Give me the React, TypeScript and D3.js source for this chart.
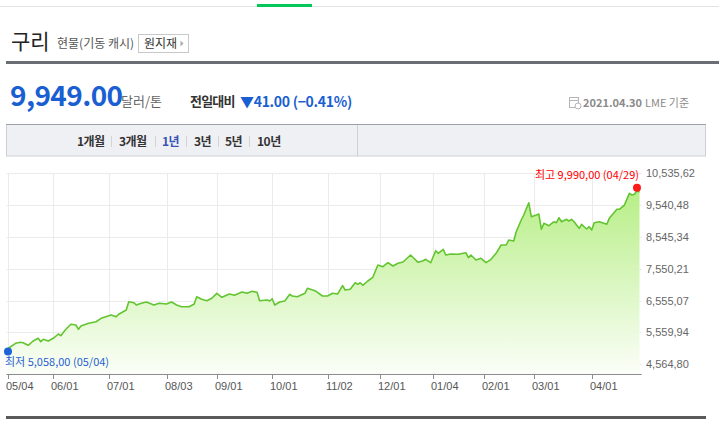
import React from 'react';
import * as d3 from 'd3';

// LME 거래일: 주말과 영국 공휴일 제외
const startDate = '2020-05-04';
const endDate = '2021-04-30';
const holidays = ['2020-05-08', '2020-05-25', '2020-08-31', '2020-12-25', '2020-12-28', '2021-01-01', '2021-04-02', '2021-04-05'];

const dates = [
  '2020-05-04', '2020-05-07', '2020-05-12', '2020-05-13', '2020-05-15', '2020-05-19', '2020-05-21', '2020-05-22', '2020-05-26', '2020-05-28',
  '2020-06-01', '2020-06-03', '2020-06-04', '2020-06-08', '2020-06-10', '2020-06-12', '2020-06-15', '2020-06-16', '2020-06-19', '2020-06-24', '2020-06-26',
  '2020-07-02', '2020-07-06', '2020-07-07', '2020-07-10', '2020-07-13', '2020-07-15', '2020-07-16', '2020-07-20', '2020-07-22', '2020-07-27', '2020-07-29',
  '2020-08-03', '2020-08-05', '2020-08-07', '2020-08-11', '2020-08-14', '2020-08-18', '2020-08-19', '2020-08-21', '2020-08-25', '2020-08-27',
  '2020-09-01', '2020-09-03', '2020-09-08', '2020-09-10', '2020-09-15', '2020-09-17', '2020-09-21', '2020-09-23', '2020-09-24', '2020-09-29', '2020-09-30',
  '2020-10-01', '2020-10-02', '2020-10-06', '2020-10-08', '2020-10-12', '2020-10-13', '2020-10-15', '2020-10-20', '2020-10-21', '2020-10-26', '2020-10-29',
  '2020-11-02', '2020-11-04', '2020-11-06', '2020-11-10', '2020-11-11', '2020-11-13', '2020-11-17', '2020-11-18', '2020-11-19', '2020-11-20', '2020-11-24', '2020-11-26', '2020-11-30',
  '2020-12-02', '2020-12-04', '2020-12-08', '2020-12-10', '2020-12-14', '2020-12-17', '2020-12-22', '2020-12-24', '2020-12-29', '2020-12-31',
  '2021-01-05', '2021-01-06', '2021-01-08', '2021-01-11', '2021-01-13', '2021-01-18', '2021-01-21', '2021-01-22', '2021-01-25', '2021-01-27', '2021-01-29',
  '2021-02-02', '2021-02-04', '2021-02-08', '2021-02-10', '2021-02-12', '2021-02-15', '2021-02-17', '2021-02-18', '2021-02-22', '2021-02-23', '2021-02-25', '2021-02-26',
  '2021-03-02', '2021-03-03', '2021-03-04', '2021-03-05', '2021-03-09', '2021-03-11', '2021-03-12', '2021-03-15', '2021-03-16', '2021-03-18', '2021-03-19', '2021-03-22', '2021-03-23', '2021-03-25', '2021-03-26', '2021-03-29', '2021-03-30', '2021-03-31',
  '2021-04-01', '2021-04-06', '2021-04-08', '2021-04-13', '2021-04-14', '2021-04-19', '2021-04-20', '2021-04-22', '2021-04-26', '2021-04-27', '2021-04-28', '2021-04-29', '2021-04-30',
];

const prices = [
  5058, 5221, 5252, 5240, 5159, 5293, 5378, 5271, 5346, 5293,
  5378, 5512, 5459, 5659, 5815, 5793, 5659, 5762, 5846, 5896, 6003,
  6106, 6053, 6128, 6262, 6521, 6490, 6418, 6471, 6512, 6418, 6471,
  6450, 6512, 6418, 6365, 6365, 6450, 6678, 6597, 6553, 6628,
  6784, 6659, 6762, 6722, 6825, 6784, 6847, 6815, 6553, 6575, 6543,
  6615, 6418, 6512, 6543, 6753, 6700, 6678, 6784, 6940, 6865, 6700,
  6700, 6784, 6762, 7022, 6887, 6909, 7115, 7065, 7115, 7034, 7169, 7284, 7669,
  7616, 7741, 7638, 7722, 7763, 7981, 7753, 7803, 7847, 7741,
  8116, 8035, 8160, 7981, 8013, 8003, 8053, 7897, 7981, 7825, 7878,
  7741, 7847, 8035, 8294, 8294, 8450, 8419, 8710, 9076, 9232, 9614, 9179,
  9232, 9263, 8785, 8972, 8897, 9022, 8991, 9147, 9022, 9097, 9044, 9097, 9022, 8816, 8941, 8866, 8794, 8866,
  8763, 8991, 9022, 8941, 9128, 9410, 9410, 9544, 9910, 9857, 9880, 9990, 9949,
];

const yTicks = [4564.80, 5559.94, 6555.07, 7550.21, 8545.34, 9540.48, 10535.62];
const xTicks = ['2020-05-04', '2020-06-01', '2020-07-01', '2020-08-03', '2020-09-01', '2020-10-01', '2020-11-02', '2020-12-01', '2021-01-04', '2021-02-01', '2021-03-01', '2021-04-01'];
const periods = ['1개월', '3개월', '1년', '3년', '5년', '10년'];
const selectedPeriod = '1년';

const KR = "'Noto Sans CJK KR', 'Noto Sans', sans-serif";
const NUM = "'Liberation Sans', Arial, sans-serif";

const parse = d3.timeParse('%Y-%m-%d');
const fmtDay = d3.timeFormat('%Y-%m-%d');
const fmtTick = d3.timeFormat('%m/%d');
const fmtNum = (v: number) => d3.format(',.2f')(v).replace('.', ',');

const tradingDays = d3.timeDay
  .range(parse(startDate)!, d3.timeDay.offset(parse(endDate)!, 1))
  .filter(d => d.getDay() !== 0 && d.getDay() !== 6)
  .map(fmtDay)
  .filter(s => !holidays.includes(s));

export default function App() {
  const plotTop = 173.3;
  const plotBottom = 374;
  const plotLeft = 8;
  const plotRight = 641.7;

  const x = d3.scalePoint<string>().domain(tradingDays).range([8, 639.5]);
  const y = d3.scaleLinear().domain([yTicks[0], yTicks[yTicks.length - 1]]).range([364.3, 173.3]);

  const data = dates.map((d, i) => ({ date: d, value: prices[i] }));

  const line = d3.line<{ date: string; value: number }>()
    .x(d => x(d.date)!)
    .y(d => y(d.value));
  const area = d3.area<{ date: string; value: number }>()
    .x(d => x(d.date)!)
    .y0(plotBottom)
    .y1(d => y(d.value));

  const maxD = data.reduce((a, b) => (b.value > a.value ? b : a));
  const minD = data.reduce((a, b) => (b.value < a.value ? b : a));

  // 기간 탭 위치
  const tabX = [77, 119, 162, 194, 225, 257];
  const sepX = [111, 155, 186, 218, 249];

  return (
    <svg width={719} height={432} style={{ position: 'absolute', left: 0, top: 0, background: '#fff' }}>
      <defs>
        <linearGradient id="areaFill" gradientUnits="userSpaceOnUse" x1="0" y1={185} x2="0" y2={plotBottom}>
          <stop offset="0%" stopColor="#b6ee84" />
          <stop offset="100%" stopColor="#fbfef8" />
        </linearGradient>
      </defs>

      {/* 상단 탭 라인 */}
      <rect x={0} y={6} width={719} height={1} fill="#e4e4e4" />
      <rect x={257} y={4} width={55} height={3} fill="#03c75a" />

      {/* 제목 */}
      <text x={11} y={49} fontFamily={KR} fontSize={21} fill="#222">구리</text>
      <text x={57} y={48} fontFamily={KR} fontSize={12} fill="#555">현물(기동 캐시)</text>
      <rect x={138.5} y={34.5} width={50} height={18} fill="#fff" stroke="#c8c8c8" />
      <text x={144} y={47.5} fontFamily={KR} fontSize={12} fill="#333">원지재</text>
      <path d="M180.5,40.5 L183.5,43.5 L180.5,46.5 Z" fill="#aaa" />
      <rect x={6} y={61} width={713} height={3} fill="#6a6e74" />

      {/* 현재가 */}
      <text x={10} y={106} fontFamily={KR} fontSize={28} fontWeight={700} fill="#1a5fd2" letterSpacing={-0.6}>9,949.00</text>
      <text x={121} y={106} fontFamily={KR} fontSize={13} fill="#666">달러/톤</text>
      <text x={190} y={106} fontFamily={KR} fontSize={13} fontWeight={700} fill="#333" letterSpacing={-0.8}>전일대비</text>
      <text x={240} y={107} fontFamily={KR} fontSize={14} fontWeight={700} fill="#1a5fd2" letterSpacing={-0.3}>▼41.00 (−0.41%)</text>

      <g transform="translate(569,97)">
        <rect x={0.5} y={0.5} width={9} height={10} fill="none" stroke="#b5b5b5" />
        <line x1={0.5} y1={3.5} x2={9.5} y2={3.5} stroke="#b5b5b5" />
        <circle cx={9} cy={9} r={3} fill="#fff" stroke="#b5b5b5" />
      </g>
      <text x={583} y={107} fontFamily={KR} fontSize={11} fontWeight={700} fill="#8a8a8a">2021.04.30</text>
      <text x={645} y={107} fontFamily={KR} fontSize={11} fill="#8a8a8a">LME 기준</text>

      {/* 기간 탭 */}
      <rect x={6.5} y={124.5} width={699} height={31.5} fill="#eff0f4" stroke="#cdd0d6" />
      <line x1={6} y1={124.5} x2={706} y2={124.5} stroke="#9da1ab" />
      <line x1={357.5} y1={125} x2={357.5} y2={156} stroke="#cdd0d6" />
      {periods.map((p, i) => (
        <text key={p} x={tabX[i]} y={146} fontFamily={KR} fontSize={12} fontWeight={700}
          fill={p === selectedPeriod ? '#3853b3' : '#333'} letterSpacing={-0.5}>{p}</text>
      ))}
      {sepX.map(sx => (
        <line key={sx} x1={sx + 0.5} y1={136} x2={sx + 0.5} y2={147} stroke="#d3d3d3" />
      ))}

      {/* 그리드 */}
      {yTicks.map(t => (
        <line key={t} x1={6.5} x2={plotRight} y1={Math.round(y(t)) + 0.5} y2={Math.round(y(t)) + 0.5} stroke="#ebebeb" />
      ))}
      {xTicks.map(t => (
        <line key={t} x1={Math.round(x(t)!) + 0.5} x2={Math.round(x(t)!) + 0.5} y1={plotTop} y2={plotBottom} stroke="#ebebeb" />
      ))}

      {/* 영역 + 라인 */}
      <path d={area(data)!} fill="url(#areaFill)" />
      <path d={line(data)!} fill="none" stroke="#62c530" strokeWidth={1.6} strokeLinejoin="round" />

      {/* x 축 */}
      <line x1={6.5} x2={plotRight} y1={plotBottom + 0.5} y2={plotBottom + 0.5} stroke="#8c8c8c" />
      {xTicks.map(t => (
        <g key={t}>
          <line x1={Math.round(x(t)!) + 0.5} x2={Math.round(x(t)!) + 0.5} y1={plotBottom} y2={plotBottom + 5} stroke="#8c8c8c" />
          <text x={Math.round(x(t)!) - 2} y={390} fontFamily={NUM} fontSize={11} fill="#555">{fmtTick(parse(t)!)}</text>
        </g>
      ))}

      {/* y 축 라벨 */}
      {yTicks.map(t => (
        <text key={t} x={646} y={y(t) + 4} fontFamily={NUM} fontSize={11} fill="#666">{fmtNum(t)}</text>
      ))}

      {/* 최고 / 최저 */}
      <circle cx={x(maxD.date)} cy={y(maxD.value) - 3} r={4} fill="#ff1a1a" />
      <text x={639} y={179} textAnchor="end" fontFamily={KR} fontSize={11} fill="#f00">
        {`최고 ${fmtNum(maxD.value)} (${fmtTick(parse(maxD.date)!)})`}
      </text>
      <circle cx={x(minD.date)} cy={y(minD.value) + 3} r={4} fill="#1f63d8" />
      <text x={5} y={365.5} fontFamily={KR} fontSize={11} fill="#1f5fd0">
        {`최저 ${fmtNum(minD.value)} (${fmtTick(parse(minD.date)!)})`}
      </text>

      <rect x={6} y={416} width={700} height={3} fill="#5a5a5a" />
    </svg>
  );
}
